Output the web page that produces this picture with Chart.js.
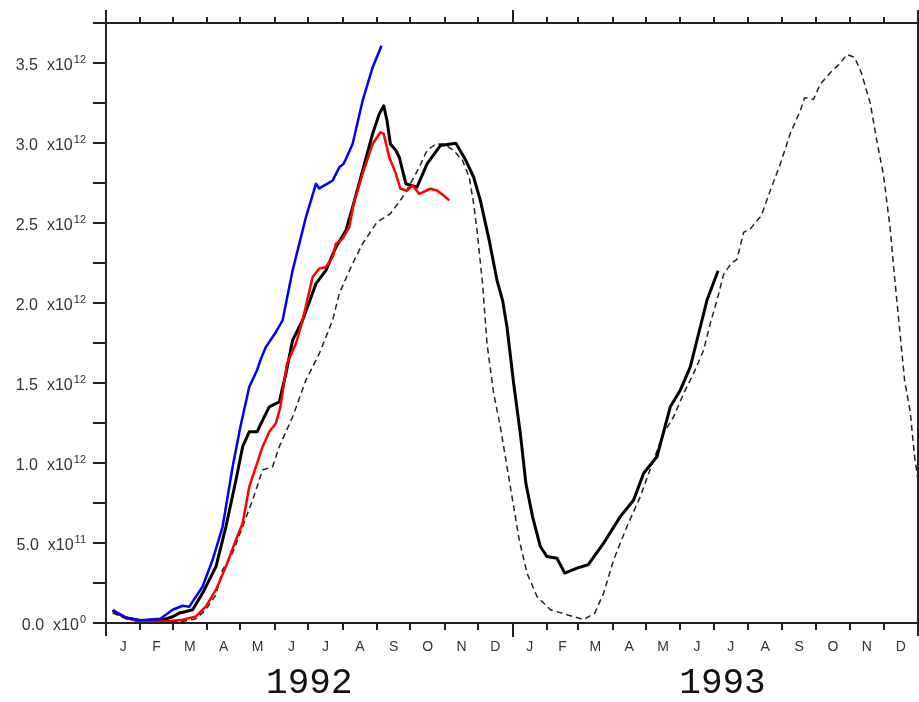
<!DOCTYPE html>
<html>
<head>
<meta charset="utf-8">
<script src="https://cdn.jsdelivr.net/npm/chart.js@4"></script>
<style>
  html, body { margin: 0; padding: 0; background: #fff; }
  #wrap { width: 919px; height: 702px; }
</style>
</head>
<body>
<div id="wrap"><canvas id="chart" width="919" height="702"></canvas></div>
<script>
'use strict';

// ── Data (x = days since 1 Jan 1992, y = units of 1e12) ───────
const UNIT = 1e12;

const blueDays = [6, 18, 31, 49, 60, 69, 75, 87, 96, 105, 114, 121, 129, 136, 139, 144, 153, 159, 168, 180, 189, 192, 204, 210, 214, 222, 231, 240, 248];
const blueVals = [0.079, 0.033, 0.017, 0.027, 0.083, 0.108, 0.102, 0.228, 0.395, 0.603, 0.977, 1.226, 1.476, 1.580, 1.643, 1.726, 1.819, 1.892, 2.204, 2.537, 2.745, 2.716, 2.765, 2.848, 2.870, 2.994, 3.264, 3.472, 3.608];

const redDays = [6, 18, 30, 54, 69, 81, 90, 99, 108, 117, 123, 129, 135, 141, 147, 153, 157, 163, 171, 177, 186, 192, 198, 204, 207, 213, 219, 223, 231, 240, 247, 250, 255, 261, 265, 271, 276, 282, 292, 298, 304, 309];
const redVals = [0.083, 0.031, 0.010, 0.010, 0.021, 0.041, 0.104, 0.208, 0.353, 0.520, 0.624, 0.852, 0.977, 1.102, 1.195, 1.248, 1.351, 1.622, 1.747, 1.892, 2.162, 2.215, 2.225, 2.287, 2.371, 2.402, 2.474, 2.620, 2.807, 2.994, 3.067, 3.057, 2.911, 2.807, 2.714, 2.703, 2.734, 2.682, 2.714, 2.703, 2.672, 2.641];

const blackDays = [6, 18, 31, 49, 60, 66, 72, 78, 87, 93, 99, 108, 117, 123, 129, 136, 141, 147, 156, 162, 168, 177, 189, 198, 207, 216, 222, 231, 240, 246, 250, 253, 256, 261, 264, 270, 280, 289, 301, 315, 324, 331, 337, 345, 352, 357, 361, 367, 373, 378, 384, 391, 397, 406, 413, 424, 434, 448, 463, 475, 484, 496, 508, 517, 526, 535, 541, 551];
const blackVals = [0.077, 0.033, 0.014, 0.014, 0.039, 0.062, 0.072, 0.083, 0.187, 0.270, 0.353, 0.603, 0.894, 1.102, 1.195, 1.195, 1.268, 1.351, 1.382, 1.560, 1.767, 1.892, 2.121, 2.204, 2.349, 2.454, 2.599, 2.828, 3.057, 3.182, 3.233, 3.140, 2.994, 2.953, 2.911, 2.745, 2.724, 2.870, 2.984, 2.998, 2.890, 2.786, 2.641, 2.391, 2.142, 2.017, 1.850, 1.497, 1.185, 0.873, 0.665, 0.478, 0.415, 0.405, 0.312, 0.343, 0.364, 0.499, 0.665, 0.769, 0.936, 1.039, 1.351, 1.455, 1.601, 1.850, 2.017, 2.201];

const dashDays = [6, 18, 31, 54, 69, 81, 90, 99, 105, 114, 123, 132, 141, 150, 156, 168, 180, 192, 204, 210, 222, 231, 244, 256, 267, 274, 282, 289, 297, 304, 313, 321, 327, 331, 334, 339, 343, 349, 355, 361, 366, 372, 379, 388, 400, 415, 430, 440, 448, 457, 469, 481, 493, 502, 511, 520, 529, 538, 544, 550, 556, 563, 568, 574, 580, 590, 598, 607, 616, 625, 629, 637, 643, 652, 661, 667, 674, 680, 688, 694, 700, 706, 710, 715, 719, 724, 728, 731];
const dashVals = [0.062, 0.027, 0.008, 0.008, 0.010, 0.027, 0.083, 0.177, 0.333, 0.437, 0.603, 0.769, 0.956, 0.977, 1.102, 1.289, 1.518, 1.684, 1.892, 2.059, 2.246, 2.371, 2.505, 2.558, 2.661, 2.745, 2.848, 2.953, 2.994, 2.994, 2.953, 2.890, 2.786, 2.620, 2.454, 2.121, 1.747, 1.435, 1.226, 0.977, 0.769, 0.520, 0.312, 0.166, 0.083, 0.052, 0.021, 0.062, 0.187, 0.395, 0.603, 0.790, 1.019, 1.185, 1.289, 1.435, 1.560, 1.705, 1.871, 2.017, 2.179, 2.248, 2.273, 2.441, 2.463, 2.547, 2.703, 2.868, 3.059, 3.202, 3.283, 3.273, 3.368, 3.439, 3.499, 3.553, 3.535, 3.439, 3.249, 3.011, 2.797, 2.463, 2.154, 1.799, 1.512, 1.320, 1.034, 0.894];

// ── Axis labels ──────────────────────────────────────────────
const monthLabels = ['J', 'F', 'M', 'A', 'M', 'J', 'J', 'A', 'S', 'O', 'N', 'D'];
const years = [1992, 1993];
const yearLabelDays = [183, 555];
const yTickVals = [0, 0.5, 1.0, 1.5, 2.0, 2.5, 3.0, 3.5];
const yTickMantissa = ['0.0', '5.0', '1.0', '1.5', '2.0', '2.5', '3.0', '3.5'];
const yTickExponent = ['0', '11', '12', '12', '12', '12', '12', '12'];
const yMinorStep = 0.25;
const Y_MAX = 3.75;

// month boundaries in days since 1 Jan 1992
const T0 = Date.UTC(1992, 0, 1);
const monthStarts = [];
for (let i = 0; i <= years.length * 12; i++) {
    monthStarts.push((Date.UTC(1992, i, 1) - T0) / 86400000);
}

function toPoints(days, vals) {
    return days.map((d, i) => ({ x: d, y: vals[i] * UNIT }));
}

// ── Custom frame: axes, ticks, labels ────────────────────────
const framePlugin = {
    id: 'frame',
    afterDatasetsDraw(chart) {
        const { ctx, chartArea: a, scales: { x, y } } = chart;
        const ink = '#222';
        ctx.save();
        ctx.strokeStyle = ink;
        ctx.lineWidth = 2;
        ctx.lineCap = 'butt';

        const line = (x1, y1, x2, y2) => {
            ctx.beginPath();
            ctx.moveTo(x1, y1);
            ctx.lineTo(x2, y2);
            ctx.stroke();
        };

        // box
        line(a.left, a.top - 13, a.left, a.bottom + 13);
        line(a.right, a.top - 13, a.right, a.bottom + 13);
        line(a.left - 13, a.top, a.right, a.top);
        line(a.left - 13, a.bottom, a.right, a.bottom);

        // y ticks
        for (let v = 0; v <= Y_MAX + 1e-9; v += yMinorStep) {
            const py = Math.round(y.getPixelForValue(v * UNIT));
            line(a.left - 13, py, a.left, py);
        }

        // month ticks
        monthStarts.forEach((d, i) => {
            if (i === 0 || i === monthStarts.length - 1) return;
            const px = Math.round(x.getPixelForValue(d));
            const len = (i % 12 === 0) ? 13 : 6;
            line(px, a.bottom, px, a.bottom + len + 1);
            line(px, a.top, px, a.top - len);
        });

        // y labels
        ctx.fillStyle = '#333';
        ctx.textBaseline = 'alphabetic';
        ctx.textAlign = 'right';
        yTickVals.forEach((v, i) => {
            const py = y.getPixelForValue(v * UNIT);
            let right = 86;
            ctx.font = '11px "Liberation Sans", Arial, sans-serif';
            ctx.fillText(yTickExponent[i], right, py);
            right -= ctx.measureText(yTickExponent[i]).width + 1;
            ctx.font = '16px "Liberation Sans", Arial, sans-serif';
            ctx.fillText('x10', right, py + 6.5);
            right -= ctx.measureText('x10').width + 9;
            ctx.fillText(yTickMantissa[i], right, py + 6.5);
        });

        // month labels
        ctx.textAlign = 'center';
        ctx.textBaseline = 'middle';
        ctx.font = '14px "Liberation Sans", Arial, sans-serif';
        for (let i = 0; i < monthStarts.length - 1; i++) {
            const mid = (monthStarts[i] + monthStarts[i + 1]) / 2;
            ctx.fillText(monthLabels[i % 12], x.getPixelForValue(mid), a.bottom + 24);
        }

        // year labels
        ctx.fillStyle = '#111';
        ctx.textBaseline = 'alphabetic';
        ctx.font = '36px "Liberation Mono", "DejaVu Sans Mono", monospace';
        years.forEach((yr, i) => {
            ctx.fillText(String(yr), x.getPixelForValue(yearLabelDays[i]), a.bottom + 70);
        });

        ctx.restore();
    }
};

// ── Chart ────────────────────────────────────────────────────
const lineBase = { pointRadius: 0, pointHoverRadius: 0, tension: 0, fill: false, borderJoinStyle: 'round' };

new Chart(document.getElementById('chart'), {
    type: 'line',
    data: {
        datasets: [
            { ...lineBase, label: 'blue', data: toPoints(blueDays, blueVals), borderColor: '#0000ff', borderWidth: 2.5 },
            { ...lineBase, label: 'red', data: toPoints(redDays, redVals), borderColor: '#ff0000', borderWidth: 2.5 },
            { ...lineBase, label: 'black', data: toPoints(blackDays, blackVals), borderColor: '#000000', borderWidth: 3 },
            { ...lineBase, label: 'dashed', data: toPoints(dashDays, dashVals), borderColor: '#222222', borderWidth: 1.5, borderDash: [6, 4] },
        ],
    },
    options: {
        responsive: false,
        animation: false,
        parsing: false,
        layout: { padding: { left: 106, top: 23, right: 1, bottom: 79 } },
        scales: {
            x: { type: 'linear', min: 0, max: monthStarts[monthStarts.length - 1], display: false },
            y: { type: 'linear', min: 0, max: Y_MAX * UNIT, display: false },
        },
        plugins: { legend: { display: false }, tooltip: { enabled: false } },
    },
    plugins: [framePlugin],
});
</script>
</body>
</html>
